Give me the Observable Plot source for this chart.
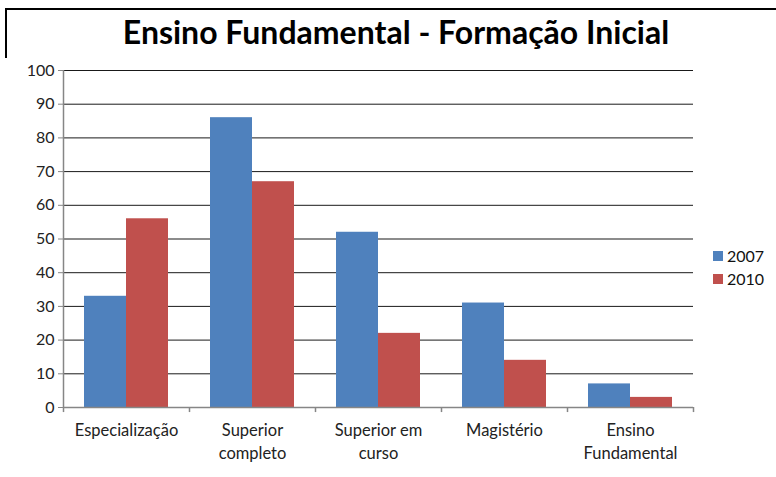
<!DOCTYPE html>
<html>
<head>
<meta charset="utf-8">
<script src="https://cdn.jsdelivr.net/npm/d3@7"></script>
<script src="https://cdn.jsdelivr.net/npm/@observablehq/plot@0.6"></script>
<style>
  html, body { margin: 0; padding: 0; background: #fff; }
  #wrap { position: relative; width: 776px; height: 477px; overflow: hidden; font-family: Lato, "Open Sans", sans-serif; }
  #frame { position: absolute; left: 5px; top: 8px; width: 800px; height: 500px; border-top: 2px solid #000; border-left: 2px solid #000; box-sizing: border-box; }
  #title { position: absolute; left: 0; width: 792px; top: 12px; height: 44px; text-align: center; font-weight: 700; font-size: 32px; color: #000; line-height: 40px; }
  #chart { position: absolute; left: 0; top: 58px; }
  #legend { position: absolute; left: 713px; top: 244px; font-size: 16px; color: #111; }
  .item { display: flex; align-items: center; height: 23px; }
  .sw { width: 10px; height: 10px; margin-right: 4px; }
</style>
</head>
<body>
<div id="wrap">
  <div id="frame"></div>
  <div id="title">Ensino Fundamental - Formação Inicial</div>
  <div id="chart"></div>
  <div id="legend"></div>
</div>
<script>
const categories = ["Especialização", "Superior completo", "Superior em curso", "Magistério", "Ensino Fundamental"];
const categoryLabels = ["Especialização", "Superior\ncompleto", "Superior em\ncurso", "Magistério", "Ensino\nFundamental"];
const years = ["2007", "2010"];
const values2007 = [33, 86, 52, 31, 7];
const values2010 = [56, 67, 22, 14, 3];
const yTicks = [0, 10, 20, 30, 40, 50, 60, 70, 80, 90, 100];
const colors = ["#4F81BD", "#C0504D"];

const data = categories.flatMap((c, i) => [
  {cat: c, year: years[0], value: values2007[i]},
  {cat: c, year: years[1], value: values2010[i]}
]);
const labelRows = categories.map((c, i) => ({cat: c, label: categoryLabels[i]}));

const W = 776, H = 419, mL = 63, mR = 83, mT = 12, mB = 70;
const facetW = (W - mL - mR) / categories.length;
const barW = facetW / 3;

const chart = Plot.plot({
  width: W, height: H,
  marginLeft: mL, marginRight: mR, marginTop: mT, marginBottom: mB,
  style: {fontFamily: "Lato, 'Open Sans', sans-serif", fontSize: "15px", color: "#222", background: "#fff"},
  fx: {domain: categories, padding: 0, axis: null},
  x: {domain: years, padding: 0, paddingOuter: 0.5, axis: null},
  y: {domain: [0, 100]},
  color: {domain: years, range: colors},
  marks: [
    Plot.ruleY(yTicks.filter(t => t > 0), {stroke: "#000", strokeOpacity: 0.9}),
    Plot.barY(data, {fx: "cat", x: "year", y: "value", fill: "year"}),
    Plot.ruleY([0], {stroke: "#868686", strokeWidth: 1.5}),
    Plot.ruleX([data[0]], {fx: "cat", x: "year", y1: 0, y2: 100, dx: -barW, stroke: "#868686", strokeWidth: 1.5}),
    Plot.ruleX([data[0]], {fx: "cat", x: "year", y1: 0, y2: -1.5, dx: -barW, stroke: "#868686", strokeWidth: 1.5}),
    Plot.ruleX(data.filter(d => d.year === years[1]), {fx: "cat", x: "year", y1: 0, y2: -1.5, dx: barW, stroke: "#868686", strokeWidth: 1.5}),
    Plot.axisY({ticks: yTicks, tickSize: 5, tickPadding: 4, fontSize: 16, label: null, stroke: "#868686", fill: "#222"}),
    Plot.text(labelRows, {fx: "cat", text: "label", frameAnchor: "bottom", lineAnchor: "top", dy: 12, lineHeight: 1.4, fontSize: 16.5, fill: "#222"})
  ]
});
document.getElementById("chart").appendChild(chart);

const legend = document.getElementById("legend");
years.forEach((y, i) => {
  const it = document.createElement("div");
  it.className = "item";
  it.innerHTML = `<span class="sw" style="background:${colors[i]}"></span><span>${y}</span>`;
  legend.appendChild(it);
});
</script>
</body>
</html>
